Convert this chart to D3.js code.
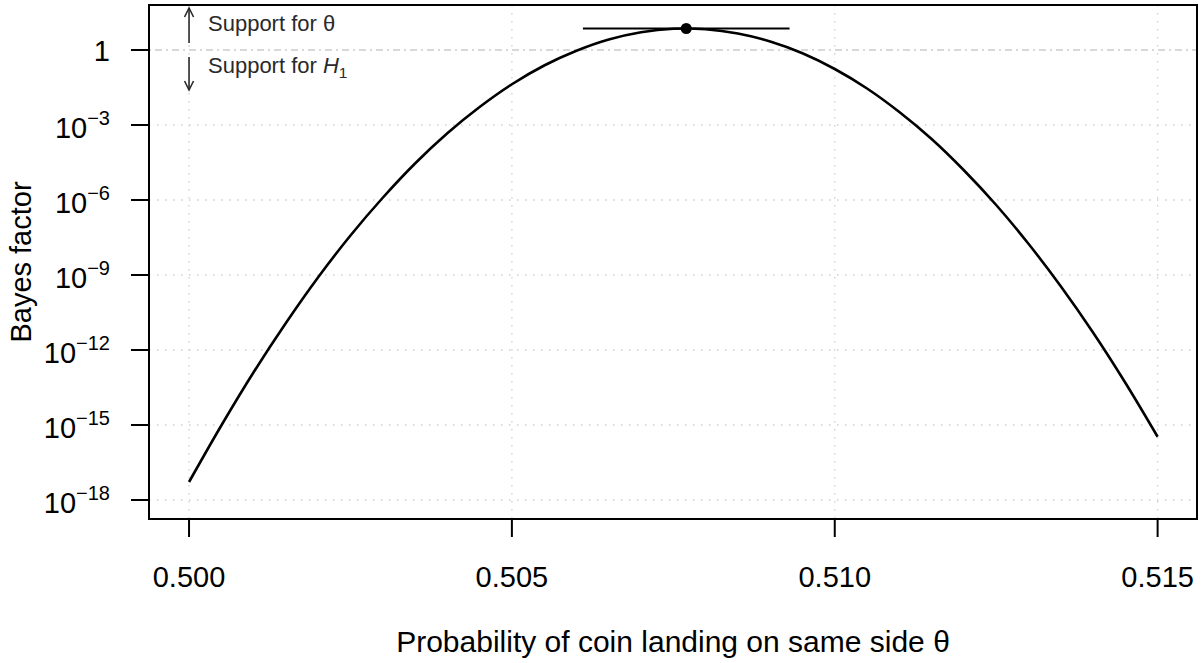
<!DOCTYPE html>
<html>
<head>
<meta charset="utf-8">
<script src="https://cdn.jsdelivr.net/npm/d3@7/dist/d3.min.js"></script>
<style>
  html, body { margin: 0; padding: 0; background: #fff; }
  svg { display: block; font-family: "Liberation Sans", Arial, Helvetica, sans-serif; }
</style>
</head>
<body>
<svg id="chart" width="1203" height="663"></svg>
<script>
// ---- data ----
const theta = [0.5000,0.5005,0.5010,0.5015,0.5020,0.5025,0.5030,0.5035,0.5040,0.5045,
               0.5050,0.5055,0.5060,0.5065,0.5070,0.5075,0.5080,0.5085,0.5090,0.5095,
               0.5100,0.5105,0.5110,0.5115,0.5120,0.5125,0.5130,0.5135,0.5140,0.5145,0.5150];
const log10BF = [-17.28,-15.02,-12.89,-10.92,-9.09,-7.42,-5.91,-4.54,-3.33,-2.28,
                 -1.37,-0.62,-0.03,0.42,0.71,0.85,0.83,0.66,0.34,-0.13,
                 -0.76,-1.54,-2.48,-3.56,-4.81,-6.20,-7.75,-9.45,-11.30,-13.31,-15.47];
const peakTheta = 0.5077;
const peakLog10BF = 0.86;
const interval = [0.5061, 0.5093];
const xTicks = [0.500, 0.505, 0.510, 0.515];
const xTickLabels = ["0.500", "0.505", "0.510", "0.515"];
const yTickExp = [0, -3, -6, -9, -12, -15, -18];
const xTitle = "Probability of coin landing on same side \u03b8";
const yTitle = "Bayes factor";

// ---- layout ----
const svg = d3.select("#chart");
const L = 149, R = 1197, T = 5, B = 519;

const x = d3.scaleLinear().domain([0.49938, 0.51561]).range([L, R]);
const y = d3.scaleLog().domain([Math.pow(10, -18.76), Math.pow(10, 1.8)]).range([B, T]);

const gridColor = "#cfcfcf";

// grid
const grid = svg.append("g");
grid.selectAll("line.gx").data(xTicks).enter().append("line")
  .attr("x1", d => x(d)).attr("x2", d => x(d)).attr("y1", T).attr("y2", B)
  .attr("stroke", gridColor).attr("stroke-width", 1.3).attr("stroke-dasharray", "1.5,6.5");
grid.selectAll("line.gy").data(yTickExp.filter(e => e !== 0)).enter().append("line")
  .attr("x1", L).attr("x2", R).attr("y1", d => y(Math.pow(10, d))).attr("y2", d => y(Math.pow(10, d)))
  .attr("stroke", gridColor).attr("stroke-width", 1.3).attr("stroke-dasharray", "1.5,6.5");

// reference line at BF = 1
svg.append("line")
  .attr("x1", L).attr("x2", R).attr("y1", y(1)).attr("y2", y(1))
  .attr("stroke", "#cccccc").attr("stroke-width", 1.5).attr("stroke-dasharray", "2,4,7,4");

// curve
const pts = theta.map((t, i) => [t, Math.pow(10, log10BF[i])]);
svg.append("path")
  .datum(pts)
  .attr("fill", "none").attr("stroke", "#000").attr("stroke-width", 2.6)
  .attr("stroke-linejoin", "round")
  .attr("d", d3.line().x(d => x(d[0])).y(d => y(d[1])).curve(d3.curveCatmullRom.alpha(0.5)));

// interval + peak
svg.append("line")
  .attr("x1", x(interval[0])).attr("x2", x(interval[1]))
  .attr("y1", y(Math.pow(10, peakLog10BF))).attr("y2", y(Math.pow(10, peakLog10BF)))
  .attr("stroke", "#000").attr("stroke-width", 2);
svg.append("circle")
  .attr("cx", x(peakTheta)).attr("cy", y(Math.pow(10, peakLog10BF))).attr("r", 5.5)
  .attr("fill", "#000");

// annotations
const ax = x(0.500);
const annColor = "#2a2a2a";
function arrow(x0, y0, y1) {
  svg.append("line").attr("x1", x0).attr("x2", x0).attr("y1", y0).attr("y2", y1)
    .attr("stroke", annColor).attr("stroke-width", 1.6);
  const dir = y1 < y0 ? 1 : -1;
  svg.append("path")
    .attr("d", `M${x0 - 4.5},${y1 + dir * 9} L${x0},${y1} L${x0 + 4.5},${y1 + dir * 9}`)
    .attr("fill", "none").attr("stroke", annColor).attr("stroke-width", 1.6);
}
arrow(ax, 43, 8);
arrow(ax, 57, 90);
svg.append("text").attr("x", 208).attr("y", 31).attr("font-size", 22).attr("fill", annColor)
  .text("Support for \u03b8");
const t2 = svg.append("text").attr("x", 208).attr("y", 73).attr("font-size", 22).attr("fill", annColor);
t2.append("tspan").text("Support for ");
t2.append("tspan").attr("font-style", "italic").text("H");
t2.append("tspan").attr("font-size", 15.5).attr("dy", 5).text("1");

// box
svg.append("rect").attr("x", L).attr("y", T).attr("width", R - L).attr("height", B - T)
  .attr("fill", "none").attr("stroke", "#000").attr("stroke-width", 2);

// x axis
const xa = svg.append("g");
xa.selectAll("line").data(xTicks).enter().append("line")
  .attr("x1", d => x(d)).attr("x2", d => x(d)).attr("y1", B).attr("y2", B + 18)
  .attr("stroke", "#000").attr("stroke-width", 2);
xa.selectAll("text").data(xTicks).enter().append("text")
  .attr("x", d => x(d)).attr("y", 587).attr("text-anchor", "middle").attr("font-size", 29)
  .text((d, i) => xTickLabels[i]);

// y axis
const ya = svg.append("g");
ya.selectAll("line").data(yTickExp).enter().append("line")
  .attr("x1", L - 18).attr("x2", L).attr("y1", d => y(Math.pow(10, d))).attr("y2", d => y(Math.pow(10, d)))
  .attr("stroke", "#000").attr("stroke-width", 2);
yTickExp.forEach(e => {
  const yy = y(Math.pow(10, e));
  if (e === 0) {
    ya.append("text").attr("x", 110).attr("y", yy + 11).attr("text-anchor", "end")
      .attr("font-size", 29).text("1");
  } else {
    const t = ya.append("text").attr("x", 110).attr("y", yy + 13).attr("text-anchor", "end")
      .attr("font-size", 29);
    t.append("tspan").text("10");
    t.append("tspan").attr("font-size", 20).attr("dy", -13).text("\u2212" + (-e));
  }
});

// titles
svg.append("text").attr("x", (L + R) / 2).attr("y", 652).attr("text-anchor", "middle")
  .attr("font-size", 30).text(xTitle);
svg.append("text").attr("transform", `translate(31,${(T + B) / 2}) rotate(-90)`)
  .attr("text-anchor", "middle").attr("font-size", 29).text(yTitle);
</script>
</body>
</html>
